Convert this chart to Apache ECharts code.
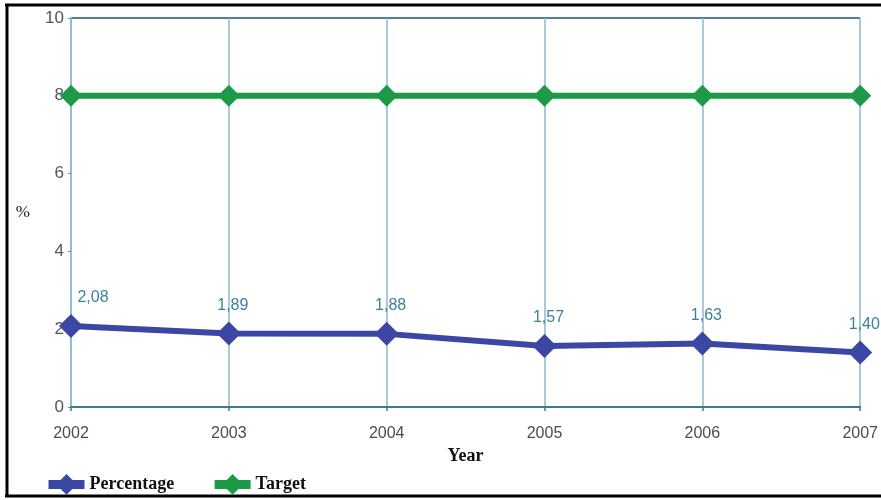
<!DOCTYPE html>
<html>
<head>
<meta charset="utf-8">
<script src="https://cdn.jsdelivr.net/npm/echarts@6/dist/echarts.min.js"></script>
<style>
  html, body { margin: 0; padding: 0; background: #fff; }
  #chart { width: 881px; height: 500px; }
</style>
</head>
<body>
<div id="chart"></div>
<script>
// Yearly percentage against the fixed target
var years = ['2002', '2003', '2004', '2005', '2006', '2007'];
var percentage = [2.08, 1.89, 1.88, 1.57, 1.63, 1.40];
var target = [8, 8, 8, 8, 8, 8];

var chart = echarts.init(document.getElementById('chart'));

var fmtComma = function (p) { return p.value.toFixed(2).replace('.', ','); };
var clear = 'rgba(0,0,0,0)';

chart.setOption({
  animation: false,
  backgroundColor: '#fff',
  grid: { left: 71, right: 19, top: 18, bottom: 93, containLabel: false },
  graphic: [
    { type: 'line', shape: { x1: 5, y1: 5, x2: 881, y2: 5 }, style: { stroke: '#000', lineWidth: 3 } },
    { type: 'line', shape: { x1: 7, y1: 4, x2: 7, y2: 497 }, style: { stroke: '#000', lineWidth: 3 } },
    { type: 'line', shape: { x1: 5, y1: 496, x2: 881, y2: 496 }, style: { stroke: '#000', lineWidth: 3 } }
  ],
  legend: {
    left: 39, top: 469,
    itemWidth: 36, itemHeight: 26, itemGap: 36,
    lineStyle: { width: 9 },
    textStyle: { fontFamily: 'Liberation Serif', fontWeight: 'bold', fontSize: 18, color: '#111' },
    data: ['Percentage', 'Target']
  },
  xAxis: {
    type: 'category',
    data: years,
    boundaryGap: false,
    name: 'Year',
    nameLocation: 'middle',
    nameGap: 38,
    nameTextStyle: { fontFamily: 'Liberation Serif', fontWeight: 'bold', fontSize: 18, color: '#111' },
    axisLine: { lineStyle: { color: '#3f7a8c', width: 2 } },
    axisTick: { show: true, length: 4, lineStyle: { color: '#3f7a8c', width: 1.5 } },
    axisLabel: { fontFamily: 'Liberation Sans', fontSize: 16, color: '#4a4a5c', margin: 19 },
    splitLine: { show: true, lineStyle: { color: '#8cb8cf', width: 1.5 } }
  },
  yAxis: {
    type: 'value',
    min: 0, max: 10, interval: 2,
    name: '%',
    nameLocation: 'middle',
    nameGap: 41,
    nameRotate: 0,
    nameTextStyle: { fontFamily: 'Liberation Serif', fontSize: 17, color: '#222' },
    axisLine: { show: true, lineStyle: { color: '#8cb8cf', width: 1.5 } },
    axisTick: { show: true, length: 3, lineStyle: { color: '#6a8fa0' } },
    axisLabel: { fontFamily: 'Liberation Sans', fontSize: 17, color: '#555', margin: 7 },
    splitLine: {
      show: true,
      lineStyle: { color: [clear, clear, clear, clear, clear, '#4f7f92'], width: 2 }
    }
  },
  series: [
    {
      name: 'Percentage',
      type: 'line',
      data: percentage.map(function (v, i) {
        // keep the first value label inside the plot
        return i === 0 ? { value: v, label: { offset: [22, 0] } } : v;
      }),
      symbol: 'diamond',
      symbolSize: 24,
      itemStyle: { color: '#3a48a4' },
      lineStyle: { color: '#3a48a4', width: 6 },
      label: {
        show: true,
        position: 'top',
        distance: 8,
        offset: [4, 0],
        formatter: fmtComma,
        fontFamily: 'Liberation Sans',
        fontSize: 16,
        color: '#3f7f9c'
      },
      z: 3
    },
    {
      name: 'Target',
      type: 'line',
      data: target,
      symbol: 'diamond',
      symbolSize: 22,
      itemStyle: { color: '#1d9a48' },
      lineStyle: { color: '#1d9a48', width: 6 },
      z: 2
    }
  ]
});
</script>
</body>
</html>
